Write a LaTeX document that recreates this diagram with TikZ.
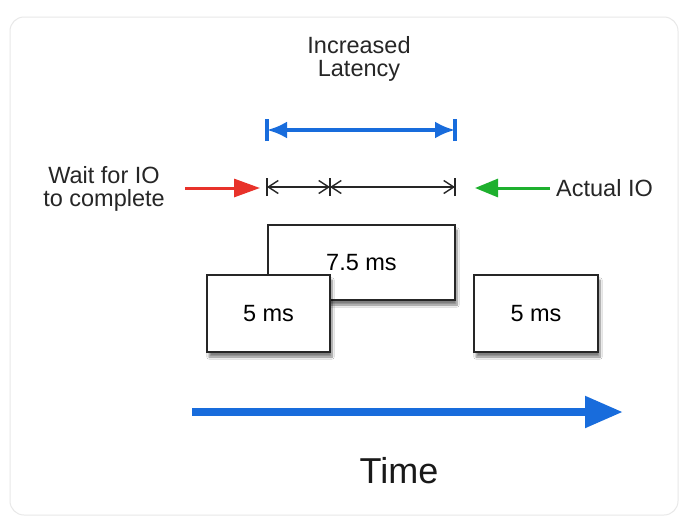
\documentclass[tikz,border=0pt]{standalone}
\usepackage{fontspec}
\setmainfont{Liberation Sans}
\usetikzlibrary{arrows.meta,shadows.blur}
\definecolor{myblue}{RGB}{24,108,220}
\definecolor{myred}{RGB}{232,50,42}
\definecolor{mygreen}{RGB}{30,176,46}
\definecolor{cardline}{RGB}{232,232,232}
\tikzset{
  msbox/.style={draw=black!85, line width=1.3pt, fill=white, inner sep=0pt,
    font=\fontsize{23.5}{25}\selectfont,
    blur shadow={shadow xshift=2pt, shadow yshift=-5pt, shadow blur steps=8, shadow opacity=50}},
  lbl/.style={font=\fontsize{23.5}{23.5}\selectfont, text=black!85, align=center, inner sep=0pt},
  dimblue/.style={myblue, line width=3.5pt, {Latex[length=20pt,width=17pt]}-{Latex[length=20pt,width=17pt]}},
  dimblack/.style={black!85, line width=1.4pt, {Straight Barb[length=10pt,width=13pt]}-{Straight Barb[length=10pt,width=13pt]}},
}
\begin{document}
\begin{tikzpicture}[x=1pt,y=-1pt]
\useasboundingbox (0,0) rectangle (694,525);
\fill[white] (0,0) rectangle (694,525);
\draw[cardline, line width=1pt, rounded corners=14pt, fill=white] (10,17) rectangle (678,515);

% title
\node[lbl] (title) at (359,59) {Increased\\Latency};

% blue dimension
\coordinate (bL) at (267,130);
\coordinate (bR) at (455,130);
\draw[myblue, line width=3.5pt] ([yshift=-11pt]bL) -- ([yshift=11pt]bL);
\draw[myblue, line width=3.5pt] ([yshift=-11pt]bR) -- ([yshift=11pt]bR);
\draw[dimblue] (bL) -- (bR);

% black dimensions
\coordinate (kL) at (267,187);
\coordinate (kM) at (330,187);
\coordinate (kR) at (455,187);
\foreach \c in {kL,kM,kR}
  \draw[black!85, line width=1.4pt] ([yshift=-9pt]\c) -- ([yshift=9pt]\c);
\draw[dimblack] (kL) -- (kM);
\draw[dimblack] (kM) -- (kR);

% side labels and arrows
\node[lbl] (wait) at (104,189) {Wait for IO\\to complete};
\node[lbl, anchor=west] (actual) at (556,188) {Actual IO};
\coordinate (rS) at (185,188);
\coordinate (rE) at (260,188);
\draw[myred, line width=3pt, -{Triangle[length=26pt,width=18pt]}] (rS) -- (rE);
\coordinate (gS) at (550,188);
\coordinate (gE) at (475,188);
\draw[mygreen, line width=3pt, -{Triangle[length=23pt,width=18pt]}] (gS) -- (gE);

% boxes
\node[msbox, minimum width=187pt, minimum height=75pt] (big) at (361.5,262.5) {7.5 ms};
\node[msbox, minimum width=123pt, minimum height=77pt] (left) at (268.5,313.5) {5 ms};
\node[msbox, minimum width=124pt, minimum height=77pt] (right) at (536,313.5) {5 ms};

% time arrow
\coordinate (tS) at (192,412);
\coordinate (tE) at (623,412);
\draw[myblue, line width=8pt, -{Triangle[length=38pt,width=30pt]}] (tS) -- (tE);
\node[font=\fontsize{36}{38}\selectfont, text=black!90, inner sep=0pt] (time) at (399,471) {Time};
\end{tikzpicture}
\end{document}
